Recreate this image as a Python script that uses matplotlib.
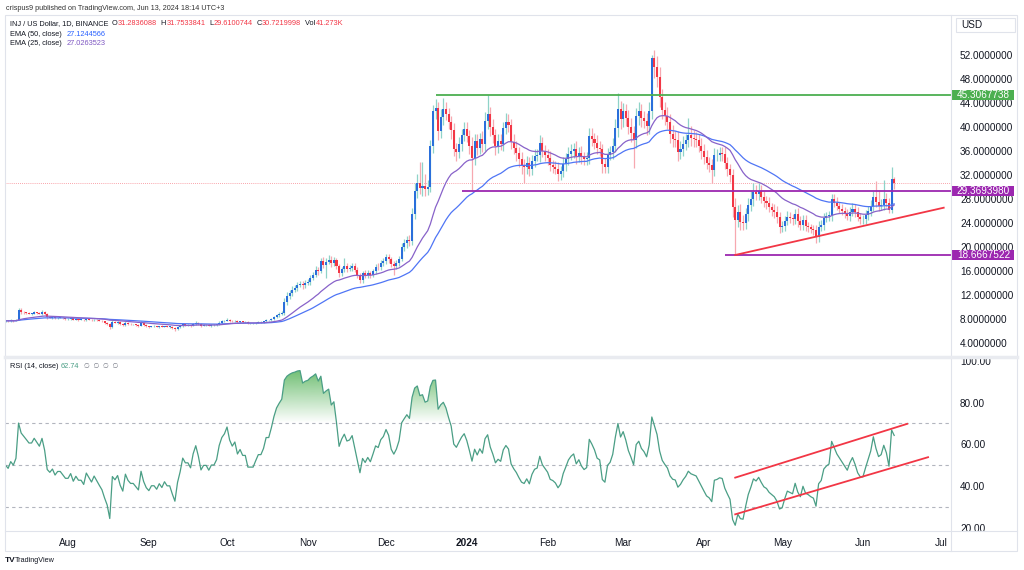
#!/usr/bin/env python3
import numpy as np
import pandas as pd
import matplotlib
matplotlib.use("Agg")
import matplotlib.pyplot as plt
import matplotlib.colors as mcolors
from matplotlib.lines import Line2D
from matplotlib.patches import Rectangle
from matplotlib.path import Path

plt.rcParams["font.family"] = ["Liberation Sans", "DejaVu Sans"]

# ---------------- Data: INJ/USD daily closes ----------------
START = "2023-07-08"
first_open = 7.6

close_jul = [7.7, 7.6, 7.8, 7.7, 7.9, 9.5, 9.2, 9.1, 9.0, 8.9, 8.9, 9.1, 9.0, 8.9, 9.2, 8.9,
             8.3, 8.2, 8.3, 8.1, 8.2, 8.2, 8.1, 8.0]
close_aug = [8.0, 8.1, 7.9, 8.0, 7.9, 7.9, 7.8, 8.0, 7.9, 7.8, 7.9, 7.8, 7.7, 7.6, 7.4, 7.2,
             6.7, 7.5, 7.4, 7.5, 7.2, 7.0, 7.4, 7.2, 7.1, 7.1, 7.0, 6.9, 7.3, 7.0, 6.8]
close_sep = [6.7, 6.8, 6.8, 6.7, 6.8, 6.7, 6.8, 6.7, 6.7, 6.5, 6.3, 6.6, 6.8, 7.1, 7.0, 7.0,
             6.9, 7.2, 7.4, 7.2, 6.9, 7.0, 7.0, 6.9, 7.0, 7.0, 7.1, 7.4, 7.6, 7.7]
close_oct = [7.9, 7.7, 7.6, 7.7, 7.5, 7.6, 7.5, 7.5, 7.3, 7.3, 7.3, 7.4, 7.5, 7.5, 7.6, 7.8,
             7.8, 8.0, 8.3, 8.6, 8.8, 9.0, 10.9, 11.8, 12.4, 12.9, 13.2, 13.7, 13.9, 13.6, 14.0]
close_nov = [14.2, 14.9, 15.4, 16.2, 16.0, 17.6, 17.0, 17.5, 17.9, 17.3, 17.8, 16.9, 15.6, 16.3,
             16.8, 16.4, 16.5, 16.9, 16.2, 15.4, 14.5, 15.6, 15.3, 15.7, 15.4, 16.0, 16.7, 16.6,
             17.3, 17.6]
close_dec = [18.3, 18.0, 17.2, 16.9, 17.3, 18.0, 20.0, 20.6, 21.2, 21.0, 25.5, 29.4, 30.6, 29.8,
             30.2, 29.6, 30.0, 36.9, 42.7, 43.1, 39.3, 41.6, 43.0, 42.2, 40.8, 39.5, 36.4, 35.8,
             37.2, 38.6, 39.6]
close_jan = [38.5, 36.8, 34.8, 37.6, 36.5, 38.0, 37.2, 41.0, 42.2, 40.0, 38.6, 36.8, 37.6, 37.2,
             39.8, 40.9, 40.3, 37.5, 36.5, 35.7, 34.6, 33.6, 33.3, 34.0, 33.0, 34.4, 35.2, 35.4,
             37.3, 36.0, 35.4]
close_feb = [34.8, 33.6, 33.4, 33.0, 32.2, 32.6, 33.8, 34.6, 35.5, 36.0, 36.3, 35.2, 35.7, 35.0,
             34.6, 34.8, 38.5, 38.0, 37.4, 36.5, 36.3, 33.8, 33.4, 35.4, 35.8, 36.9, 39.8, 43.0,
             41.3]
close_mar = [42.6, 41.5, 40.0, 39.0, 37.8, 41.8, 42.6, 41.5, 41.0, 40.2, 42.6, 51.5, 50.0, 48.4,
             45.0, 42.8, 41.8, 40.9, 38.9, 38.0, 37.8, 35.9, 36.4, 37.2, 37.8, 38.7, 38.2, 38.0,
             37.8, 36.9, 36.0]
close_apr = [35.0, 34.0, 33.6, 32.8, 35.3, 35.4, 35.6, 35.5, 34.0, 33.0, 32.0, 26.7, 24.5, 25.8,
             24.2, 24.0, 25.5, 27.0, 28.0, 29.2, 28.8, 29.3, 28.4, 27.6, 27.3, 26.6, 26.2, 25.8,
             25.0, 23.4]
close_may = [23.5, 24.3, 25.0, 24.8, 24.6, 25.5, 24.3, 23.6, 24.5, 23.5, 23.3, 23.0, 22.8, 21.6,
             23.4, 23.7, 24.8, 25.1, 25.3, 28.0, 27.4, 26.8, 26.4, 26.0, 25.6, 25.2, 25.9, 26.4,
             25.8, 25.0, 24.6]
close_jun = [24.6, 25.3, 26.0, 26.8, 28.4, 27.5, 26.8, 27.0, 28.0, 27.4, 26.2, 31.28, 30.72]

# wick lengths above / below the body
up_jul = [0.15, 0.1, 0.2, 0.1, 0.15, 0.3, 0.35, 0.2, 0.15, 0.2, 0.1, 0.25, 0.15, 0.2, 0.25, 0.2,
          0.1, 0.15, 0.2, 0.1, 0.1, 0.15, 0.2, 0.1]
lo_jul = [0.1, 0.15, 0.1, 0.15, 0.1, 0.1, 0.3, 0.2, 0.15, 0.1, 0.2, 0.1, 0.15, 0.1, 0.2, 0.15,
          0.25, 0.1, 0.15, 0.1, 0.15, 0.1, 0.1, 0.15]
up_aug = [0.15, 0.1, 0.2, 0.1, 0.1, 0.15, 0.1, 0.2, 0.1, 0.15, 0.1, 0.1, 0.15, 0.1, 0.1, 0.15,
          0.2, 0.3, 0.15, 0.1, 0.2, 0.15, 0.2, 0.1, 0.1, 0.15, 0.1, 0.1, 0.3, 0.2, 0.1]
lo_aug = [0.1, 0.15, 0.1, 0.1, 0.15, 0.1, 0.2, 0.1, 0.1, 0.1, 0.15, 0.1, 0.1, 0.15, 0.2, 0.2,
          0.35, 0.15, 0.1, 0.15, 0.2, 0.15, 0.1, 0.15, 0.1, 0.1, 0.15, 0.25, 0.1, 0.15, 0.15]
up_sep = [0.1, 0.1, 0.15, 0.1, 0.1, 0.15, 0.1, 0.1, 0.1, 0.1, 0.15, 0.2, 0.15, 0.2, 0.15, 0.1,
          0.1, 0.2, 0.25, 0.15, 0.1, 0.1, 0.1, 0.15, 0.1, 0.1, 0.15, 0.2, 0.2, 0.15]
lo_sep = [0.15, 0.1, 0.1, 0.1, 0.15, 0.1, 0.1, 0.1, 0.15, 0.2, 0.25, 0.1, 0.1, 0.15, 0.1, 0.1,
          0.15, 0.1, 0.15, 0.2, 0.15, 0.1, 0.1, 0.1, 0.15, 0.1, 0.1, 0.1, 0.15, 0.1]
up_oct = [0.25, 0.15, 0.1, 0.15, 0.1, 0.1, 0.1, 0.1, 0.1, 0.1, 0.1, 0.1, 0.15, 0.1, 0.1, 0.15,
          0.1, 0.2, 0.25, 0.2, 0.3, 0.3, 0.6, 0.7, 0.5, 0.6, 0.5, 0.4, 0.5, 0.4, 0.5]
lo_oct = [0.1, 0.2, 0.15, 0.1, 0.15, 0.1, 0.1, 0.1, 0.15, 0.1, 0.1, 0.1, 0.1, 0.1, 0.1, 0.1,
          0.15, 0.1, 0.1, 0.2, 0.2, 0.2, 0.3, 0.5, 0.4, 0.5, 0.4, 0.5, 0.4, 0.6, 0.4]
up_nov = [0.5, 0.4, 0.5, 0.6, 0.5, 0.6, 0.8, 0.6, 0.7, 0.6, 0.6, 0.4, 0.3, 0.4, 1.4, 0.6, 0.5,
          0.4, 0.5, 0.4, 0.3, 0.4, 0.5, 0.4, 0.3, 0.4, 0.5, 0.6, 0.5, 0.6]
lo_nov = [0.4, 0.5, 0.4, 0.4, 0.6, 0.4, 0.5, 2.2, 0.4, 0.6, 0.5, 0.6, 0.6, 0.5, 0.4, 0.5, 0.4,
          0.5, 0.4, 0.5, 0.5, 0.5, 0.4, 0.4, 0.5, 0.4, 0.5, 0.4, 0.5, 0.4]
up_dec = [0.5, 0.6, 0.4, 0.5, 0.6, 0.5, 0.6, 0.8, 0.7, 0.8, 1.0, 1.2, 1.5, 3.6, 3.9, 2.0, 1.2,
          1.0, 0.9, 1.5, 1.0, 1.4, 1.8, 1.2, 1.0, 1.0, 1.2, 1.0, 1.1, 1.0, 1.2]
lo_dec = [0.5, 0.6, 0.5, 1.5, 0.6, 0.5, 0.4, 0.6, 0.7, 0.8, 0.6, 0.8, 1.2, 1.0, 1.3, 1.1, 1.0,
          0.8, 1.2, 1.4, 1.5, 1.2, 1.3, 1.1, 1.2, 1.5, 1.3, 1.4, 1.0, 1.2, 1.0]
up_jan = [1.2, 1.0, 1.5, 1.2, 1.3, 1.0, 1.4, 1.5, 3.1, 1.2, 1.4, 1.0, 1.2, 1.3, 1.0, 1.4, 1.2,
          1.0, 1.3, 1.1, 1.0, 1.2, 1.0, 1.1, 1.0, 0.9, 1.2, 1.0, 1.3, 1.1, 1.0]
lo_jan = [1.0, 1.3, 5.3, 1.2, 1.1, 1.0, 1.3, 1.2, 1.4, 1.5, 1.2, 1.4, 1.1, 1.0, 1.2, 1.0, 1.1,
          1.2, 1.0, 1.3, 1.2, 1.4, 2.6, 1.1, 1.2, 1.0, 1.1, 0.9, 1.2, 1.0, 1.1]
up_feb = [1.0, 1.2, 0.9, 1.0, 1.1, 0.9, 1.2, 1.0, 1.1, 1.2, 1.0, 1.3, 1.0, 1.1, 0.9, 1.0, 1.4,
          1.3, 1.0, 1.2, 1.1, 0.9, 1.0, 1.1, 1.0, 1.2, 1.5, 2.6, 1.4]
lo_feb = [1.2, 1.0, 1.1, 0.9, 1.2, 1.0, 0.9, 1.1, 1.0, 1.0, 1.2, 1.3, 1.0, 1.1, 1.0, 0.9, 1.0,
          1.2, 1.1, 1.0, 1.2, 1.4, 1.1, 1.0, 0.9, 1.1, 1.0, 1.4, 1.6]
up_mar = [1.4, 1.2, 1.3, 1.5, 1.2, 1.4, 1.6, 1.3, 1.2, 1.4, 1.5, 0.5, 1.3, 1.8, 1.6, 1.4, 1.3,
          1.5, 1.2, 1.4, 1.3, 1.6, 1.2, 1.3, 1.1, 2.8, 1.4, 1.3, 1.2, 1.1, 1.2]
lo_mar = [1.3, 1.4, 1.2, 1.5, 4.7, 1.3, 1.4, 1.5, 1.2, 1.6, 1.3, 1.2, 1.8, 1.7, 1.6, 1.5, 1.4,
          1.3, 1.6, 1.4, 1.2, 1.5, 1.3, 1.2, 1.1, 1.2, 1.3, 1.4, 1.2, 1.1, 1.3]
up_apr = [1.1, 1.2, 1.0, 1.1, 1.2, 0.9, 1.0, 1.1, 1.2, 1.0, 0.9, 1.0, 1.4, 1.2, 1.3, 1.1, 1.0,
          1.2, 1.3, 1.4, 1.2, 1.3, 1.1, 1.0, 0.9, 1.0, 0.8, 0.9, 1.0, 0.9]
lo_apr = [1.2, 1.0, 1.1, 2.1, 1.0, 0.9, 1.0, 1.1, 1.0, 1.2, 1.1, 1.7, 5.83, 1.2, 1.3, 1.2, 1.0,
          1.1, 1.0, 1.2, 1.0, 0.9, 1.1, 1.0, 0.9, 0.8, 1.0, 0.9, 1.0, 1.1]
up_may = [0.9, 0.8, 1.0, 0.8, 0.7, 0.9, 1.0, 0.8, 0.9, 0.8, 0.7, 0.6, 0.7, 0.8, 0.9, 0.8, 0.9,
          0.8, 0.7, 0.9, 0.8, 0.9, 0.7, 0.8, 0.6, 0.7, 0.8, 0.9, 0.7, 0.8, 0.7]
lo_may = [0.9, 0.8, 0.7, 0.8, 0.9, 0.8, 0.9, 0.8, 0.7, 0.9, 0.8, 0.7, 0.8, 0.9, 0.8, 0.7, 0.8,
          0.7, 0.8, 0.9, 0.8, 0.7, 0.8, 0.7, 0.8, 0.7, 0.8, 0.7, 0.8, 0.7, 0.8]
up_jun = [0.7, 0.8, 0.9, 1.0, 0.9, 2.6, 2.0, 1.0, 3.2, 1.0, 0.8, 2.0, 0.47]
lo_jun = [0.8, 0.7, 0.8, 0.9, 0.8, 0.9, 0.8, 0.7, 0.9, 0.8, 0.5, 0.6, 1.11]

# drawn levels / trendlines
level_prices = [45.3067738, 29.3693980, 18.6667522]
level_starts = ["2023-12-20", "2023-12-30", "2024-04-09"]
level_labels = ["45.3067738", "29.3693980", "18.6667522"]
support_dates = ["2024-04-13", "2024-07-02"]
support_prices = [18.67, 26.55]
rsi_upper_dates = ["2024-04-13", "2024-06-18"]
rsi_upper_vals = [44.0, 69.8]
rsi_lower_dates = ["2024-04-13", "2024-06-26"]
rsi_lower_vals = [26.4, 53.8]

price_ticks = [4, 8, 12, 16, 20, 24, 28, 32, 36, 40, 44, 48, 52]
rsi_ticks = [20, 40, 60, 80, 100]

header_ohlc = [("O", "31.2836088"), ("H", "31.7533841"), ("L", "29.6100744"),
               ("C", "30.7219998"), ("Vol", "41.273K")]
ema50_text = "27.1244566"
ema25_text = "27.0263523"
rsi_text = "62.74"
last_close = 30.7219998

# ---------------- Build series ----------------
close = np.array(close_jul + close_aug + close_sep + close_oct + close_nov + close_dec +
                 close_jan + close_feb + close_mar + close_apr + close_may + close_jun)
up_w = np.array(up_jul + up_aug + up_sep + up_oct + up_nov + up_dec +
                up_jan + up_feb + up_mar + up_apr + up_may + up_jun)
lo_w = np.array(lo_jul + lo_aug + lo_sep + lo_oct + lo_nov + lo_dec +
                lo_jan + lo_feb + lo_mar + lo_apr + lo_may + lo_jun)
start = pd.Timestamp(START)
idx = np.arange(len(close))
opens = np.r_[first_open, close[:-1]]
highs = np.maximum(opens, close) + up_w
lows = np.minimum(opens, close) - lo_w


def day(s):
    return (pd.Timestamp(s) - start).days


s = pd.Series(close)
ema50 = s.ewm(span=50, adjust=False).mean()
ema25 = s.ewm(span=25, adjust=False).mean()


def wilder_rsi(values, n=14, seed=0.12):
    ag, al = seed, seed
    out = [50.0]
    for k in range(1, len(values)):
        d = values[k] - values[k - 1]
        ag = (ag * (n - 1) + max(d, 0)) / n
        al = (al * (n - 1) + max(-d, 0)) / n
        out.append(100 - 100 / (1 + ag / al))
    return np.array(out)


rsi = wilder_rsi(close)

# ---------------- Figure ----------------
W, H = 1024, 570
TXT = "#131722"
GRID = "#e0e3eb"
fig = plt.figure(figsize=(W / 100, H / 100), dpi=100)


def fbox(x0, y0, x1, y1):
    return [x0 / W, 1 - y1 / H, (x1 - x0) / W, (y1 - y0) / H]


def fline(x0, y0, x1, y1, **kw):
    fig.add_artist(Line2D([x0 / W, x1 / W], [1 - y0 / H, 1 - y1 / H], **kw))


ax = fig.add_axes(fbox(5, 15, 951, 355))
rax = fig.add_axes(fbox(5, 359, 951, 531), sharex=ax)

# candles
is_up = close >= opens
body_col = np.where(is_up, "#2a6fdb", "#f23645")
wick_col = np.where(is_up, "#8fd3c8", "#f7a8b0")
ax.vlines(idx, lows, highs, colors=wick_col, lw=0.9, zorder=2)
ax.bar(idx, np.maximum(np.abs(close - opens), 0.06), bottom=np.minimum(opens, close),
       width=0.78, color=body_col, lw=0, zorder=2.5)

ax.plot(idx, ema50, color="#4f75f5", lw=0.9, zorder=3)
ax.plot(idx, ema25, color="#8862c9", lw=0.9, zorder=3)

ax.axhline(last_close, color="#f23645", lw=0.6, ls=(0, (1, 1.5)), alpha=0.6, zorder=1)

xmax = 362.8
level_colors = ["#4caf50", "#9c27b0", "#9c27b0"]
for p, st, col in zip(level_prices, level_starts, level_colors):
    ax.hlines(p, day(st), xmax, color=col, lw=1.3, zorder=4)
ax.plot([day(d) for d in support_dates], support_prices, color="#f23645", lw=1.3, zorder=4)

ax.set_xlim(-0.2, xmax)
ax.set_ylim(2.0, 58.67)

# price labels on the axis
ytr = ax.get_yaxis_transform()
for p, lab, col in zip(level_prices, level_labels, level_colors):
    ax.add_patch(Rectangle((1.0015, p - 0.85), 0.0655, 1.7, transform=ytr, fc=col, ec="none",
                           clip_on=False, zorder=10))
    ax.text(1.0015 + 0.0655 / 2, p, lab, transform=ytr, ha="center", va="center",
            color="white", fontsize=7.2, clip_on=False, zorder=11)

# ---------------- RSI ----------------
for lv in (70, 50, 30):
    rax.axhline(lv, color="#b2b5be", lw=0.8, ls=(0, (3, 3)), zorder=1)

poly = rax.fill_between(idx, 70, rsi, where=rsi > 70, interpolate=True,
                        facecolor="none", edgecolor="none")
paths = poly.get_paths()
if paths:
    clip = Path.make_compound_path(*paths)
    grad = np.zeros((256, 1, 4))
    grad[..., :3] = mcolors.to_rgb("#4caf50")
    grad[:, 0, 3] = np.linspace(0.95, 0.0, 256)
    im = rax.imshow(grad, extent=[idx[0], idx[-1], 70, 100], aspect="auto",
                    origin="upper", zorder=1.5)
    im.set_clip_path(clip, transform=rax.transData)

rax.plot(idx, rsi, color="#4a9e85", lw=0.9, zorder=3)
rax.plot([day(d) for d in rsi_upper_dates], rsi_upper_vals, color="#f23645", lw=1.3, zorder=4)
rax.plot([day(d) for d in rsi_lower_dates], rsi_lower_vals, color="#f23645", lw=1.3, zorder=4)
rax.set_ylim(18.4, 100.9)
rax.set_xlim(-0.2, xmax)

# ---------------- Axes styling ----------------
for a in (ax, rax):
    for sp in a.spines.values():
        sp.set_visible(False)
    a.yaxis.tick_right()
    a.tick_params(length=0, labelsize=7.2, labelcolor=TXT)
    a.tick_params(axis="y", pad=6.5)

ax.set_yticks(price_ticks)
ax.set_yticklabels([f"{v:.7f}" for v in price_ticks])
ax.tick_params(labelbottom=False)
rax.set_yticks(rsi_ticks)
rax.set_yticklabels([f"{v:.2f}" for v in rsi_ticks])

months = pd.date_range("2023-08-01", "2024-07-01", freq="MS")
rax.set_xticks([(m - start).days for m in months])
rax.set_xticklabels(["2024" if m.month == 1 else m.strftime("%b") for m in months])
rax.tick_params(axis="x", pad=5)
for t in rax.get_xticklabels():
    if t.get_text() == "2024":
        t.set_fontweight("bold")

# frame and separators
fig.add_artist(Rectangle((5 / W, 1 - 551 / H), 1012 / W, 536 / H, fill=False, ec=GRID, lw=0.8,
                         transform=fig.transFigure))
fline(951, 15, 951, 551, color=GRID, lw=0.8)
fline(5, 357, 1017, 357, color="#e9ebf0", lw=2.5)
fline(5, 531, 1017, 531, color=GRID, lw=0.8)

fig.add_artist(Rectangle((956 / W, 1 - 32 / H), 59 / W, 14 / H, fc="white", ec=GRID, lw=0.8,
                         transform=fig.transFigure))
fig.text(961 / W, 1 - 25 / H, "USD", va="center", fontsize=7.2, color=TXT)

# ---------------- Header texts ----------------
fig.text(6 / W, 1 - 8 / H, "crispus9 published on TradingView.com, Jun 13, 2024 18:14 UTC+3",
         fontsize=5.2, color="#333333", va="center")
prev = fig.text(10 / W, 1 - 23.5 / H, "INJ / US Dollar, 1D, BINANCE", fontsize=5.3,
                color=TXT, va="center")
for letter, val in header_ohlc:
    lt = ax.annotate("  " + letter, xy=(1, 0), xycoords=prev, va="bottom", ha="left",
                     fontsize=5.3, color=TXT, annotation_clip=False)
    prev = ax.annotate(val, xy=(1, 0), xycoords=lt, va="bottom", ha="left",
                       fontsize=5.3, color="#f23645", annotation_clip=False)

fig.text(10 / W, 1 - 34 / H, "EMA (50, close)", fontsize=5.3, color=TXT, va="center")
fig.text(66.7 / W, 1 - 34 / H, ema50_text, fontsize=5.3, color="#2962ff", va="center")
fig.text(10 / W, 1 - 43.5 / H, "EMA (25, close)", fontsize=5.3, color=TXT, va="center")
fig.text(66.7 / W, 1 - 43.5 / H, ema25_text, fontsize=5.3, color="#7e57c2", va="center")

fig.text(10 / W, 1 - 367 / H, "RSI (14, close)", fontsize=5.3, color=TXT, va="center")
fig.text(60.7 / W, 1 - 367 / H, rsi_text, fontsize=5.3, color="#4a9e85", va="center")
fig.text(84 / W, 1 - 367 / H, "\u2205  \u2205  \u2205  \u2205", fontsize=4.8, color="#787b86",
         va="center")

fig.text(5 / W, 1 - 560 / H, "TV", fontsize=6, fontweight="bold", color=TXT, va="center")
fig.text(15 / W, 1 - 560 / H, "TradingView", fontsize=5.2, color=TXT, va="center")

fig.savefig("out.png", dpi=100)
